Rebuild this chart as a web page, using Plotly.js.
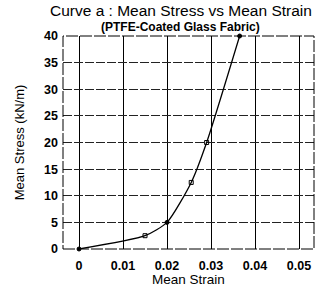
<!DOCTYPE html>
<html><head><meta charset="utf-8">
<script src="https://cdn.plot.ly/plotly-3.0.1.min.js"></script>
<style>html,body{margin:0;padding:0;background:#fff}#chart{width:324px;height:291px}</style>
</head><body><div id="chart"></div>
<script>
const strain = [0, 0.015, 0.02, 0.0255, 0.029, 0.0365];
const stress = [0, 2.5, 5, 12.5, 20, 40];
const xTicks = [0, 0.01, 0.02, 0.03, 0.04, 0.05];
const xTickText = ['0', '0.01', '0.02', '0.03', '0.04', '0.05'];
const yTicks = [0, 5, 10, 15, 20, 25, 30, 35, 40];

const F = 'Liberation Sans, Arial, Helvetica, sans-serif';
const trace = {
  x: strain, y: stress, mode: 'lines+markers', type: 'scatter',
  line: {color: '#000', width: 1.3, shape: 'spline', smoothing: 0.6},
  marker: {color: '#000', size: 4, symbol: ['circle','square-open','circle','square-open','square-open','circle'], line: {color:'#000', width:1}},
  cliponaxis: false, showlegend: false
};
const layout = {
  width: 324, height: 291,
  margin: {l: 63, r: 10, t: 36, b: 42},
  paper_bgcolor: '#fff', plot_bgcolor: '#fff',
  font: {family: F, color: '#000'},
  xaxis: {
    range: [-0.00364, 0.0534], tickvals: xTicks, ticktext: xTickText,
    showgrid: true, gridcolor: '#000', gridwidth: 1,
    zeroline: false, showline: false, ticks: '', ticklabelstandoff: 7,
    tickfont: {size: 12.5, family: F, weight: 'bold'},
    title: {text: 'Mean Strain', font: {size: 13.5, family: F}, standoff: 1}
  },
  yaxis: {
    range: [0, 40], tickvals: yTicks,
    showgrid: true, gridcolor: '#222', gridwidth: 1, griddash: '9px,2px',
    zeroline: false, showline: false, ticks: '', ticklabelstandoff: 4,
    tickfont: {size: 12.5, family: F, weight: 'bold'},
    title: {text: 'Mean Stress (kN/m)', font: {size: 13, family: F}, standoff: 16}
  },
  shapes: [{type: 'rect', xref: 'paper', yref: 'paper', x0: 0, x1: 1, y0: 0, y1: 1,
    line: {color: '#000', width: 1, dash: '12px,2px'}}],
  annotations: [
    {text: 'Curve a : Mean Stress vs Mean Strain', xref: 'paper', yref: 'paper', x: 0.47, y: 1, yshift: 15,
     showarrow: false, font: {size: 15.5, family: F}, xanchor: 'center', yanchor: 'bottom'},
    {text: '(PTFE-Coated Glass Fabric)', xref: 'paper', yref: 'paper', x: 0.47, y: 1, yshift: 0,
     showarrow: false, font: {size: 12, family: F, weight: 'bold'}, xanchor: 'center', yanchor: 'bottom'}
  ]
};
Plotly.newPlot('chart', [trace], layout, {displayModeBar: false, staticPlot: true});
</script></body></html>
